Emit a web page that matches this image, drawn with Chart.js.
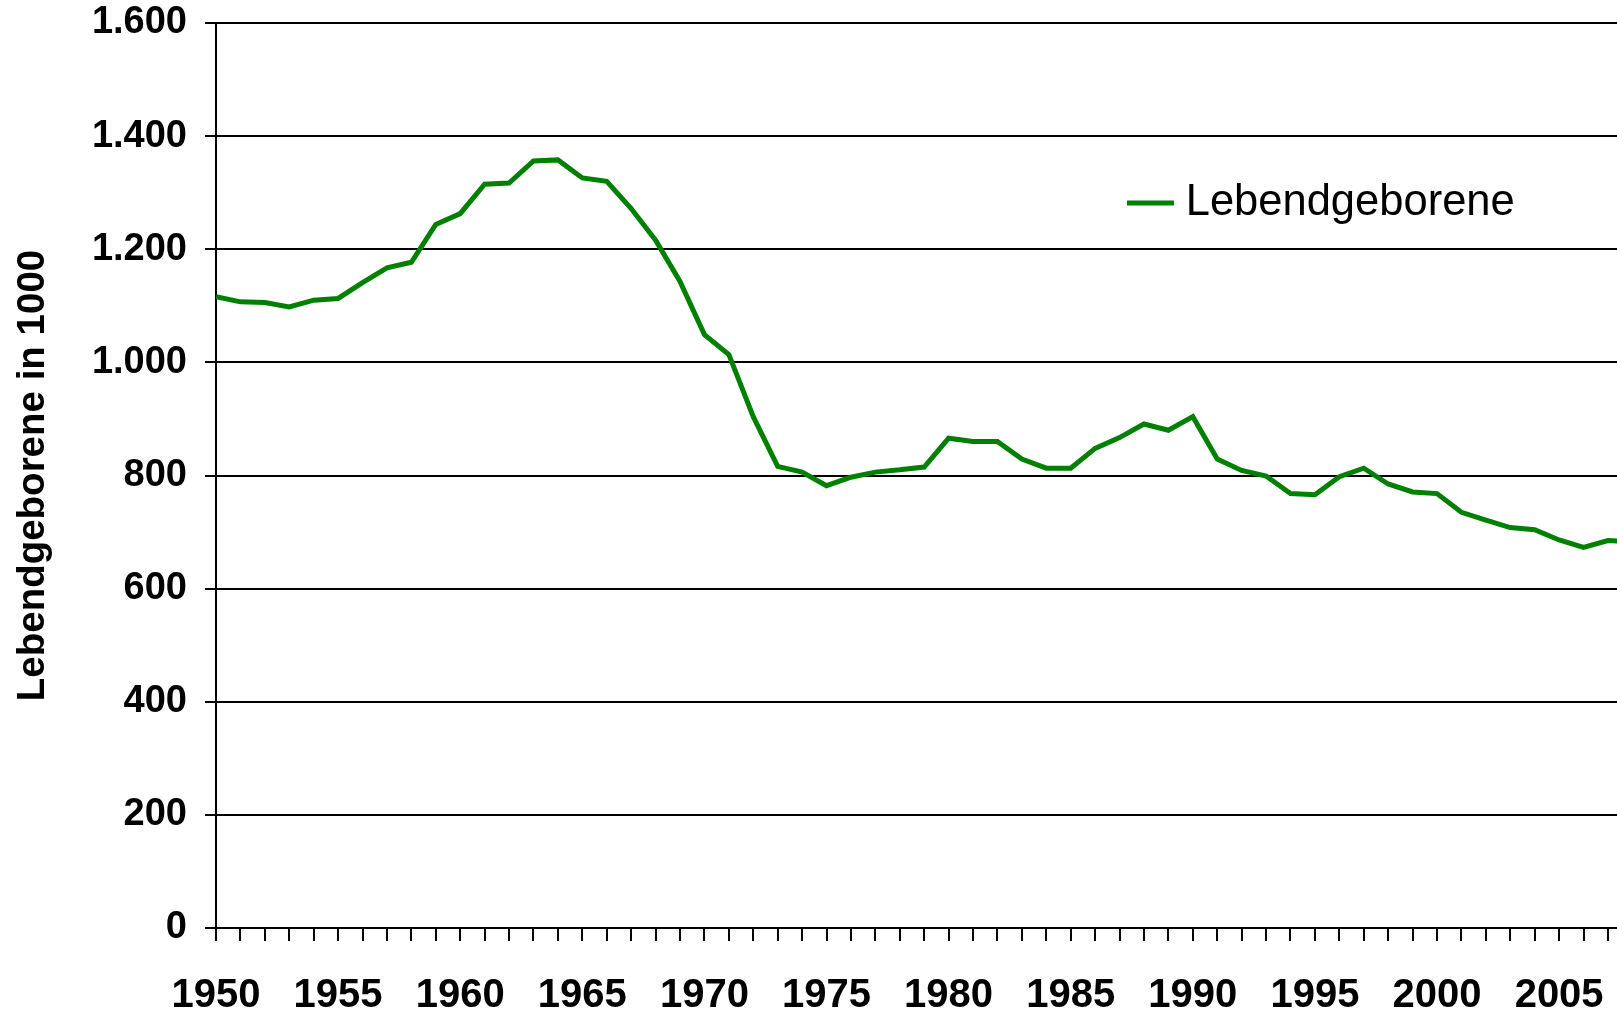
<!DOCTYPE html>
<html>
<head>
<meta charset="utf-8">
<script src="https://cdn.jsdelivr.net/npm/chart.js@4.4.0/dist/chart.umd.min.js"></script>
<style>
    html, body { margin: 0; padding: 0; background: #fff; }
    #wrap { width: 1617px; height: 1012px; }
</style>
</head>
<body>
<div id="wrap"><canvas id="birthsChart"></canvas></div>
<script>
// Lebendgeborene in Deutschland, in 1000
const years = [
    1950, 1951, 1952, 1953, 1954, 1955, 1956, 1957, 1958, 1959,
    1960, 1961, 1962, 1963, 1964, 1965, 1966, 1967, 1968, 1969,
    1970, 1971, 1972, 1973, 1974, 1975, 1976, 1977, 1978, 1979,
    1980, 1981, 1982, 1983, 1984, 1985, 1986, 1987, 1988, 1989,
    1990, 1991, 1992, 1993, 1994, 1995, 1996, 1997, 1998, 1999,
    2000, 2001, 2002, 2003, 2004, 2005, 2006, 2007, 2008
];
const births = [
    1116, 1107, 1106, 1098, 1110, 1113, 1141, 1167, 1177, 1244,
    1263, 1315, 1317, 1356, 1358, 1326, 1320, 1272, 1216, 1143,
    1049, 1014, 904, 816, 806, 782, 797, 806, 810, 815,
    866, 860, 860, 829, 813, 813, 848, 867, 891, 880,
    904, 829, 809, 799, 768, 766, 798, 813, 785, 771,
    768, 735, 721, 708, 704, 686, 673, 685, 683
];
const labelYears = [1950, 1955, 1960, 1965, 1970, 1975, 1980, 1985, 1990, 1995, 2000, 2005];
const yMax = 1600;
const yStep = 200;
const xMin = 1950;
const xMax = 2007.37;   // Bild ist rechts abgeschnitten

const seriesName = 'Lebendgeborene';
const yTitle = 'Lebendgeborene in 1000';

const fontFamily = '"Liberation Sans", Arial, Helvetica, sans-serif';
Chart.defaults.font.family = fontFamily;
Chart.defaults.color = '#000';

// deutsche Tausenderpunkte
function formatDe(v) {
    return String(v).replace(/\B(?=(\d{3})+(?!\d))/g, '.');
}

// keine automatischen Randabstaende der Achsen
function noScalePadding(s) {
    s.paddingTop = 0;
    s.paddingBottom = 0;
    s.paddingLeft = 0;
    s.paddingRight = 0;
}

// Legende in den Diagrammbereich schieben
const legendSpot = {
    id: 'legendSpot',
    afterLayout(chart) {
        const lg = chart.legend;
        const area = chart.chartArea;
        if (!lg || !area) return;
        const w = lg.width, h = lg.height;
        lg.left = area.left + (area.right - area.left) * 0.6488;
        lg.top = area.top + (area.bottom - area.top) * 0.1615;
        lg.right = lg.left + w;
        lg.bottom = lg.top + h;
    }
};

const ctx = document.getElementById('birthsChart');
new Chart(ctx.getContext('2d'), {
    type: 'line',
    data: {
        datasets: [{
            label: seriesName,
            data: years.map((y, i) => ({ x: y, y: births[i] })),
            borderColor: '#008000',
            backgroundColor: '#008000',
            borderWidth: 5,
            pointRadius: 0,
            tension: 0,
            fill: false
        }]
    },
    options: {
        responsive: true,
        maintainAspectRatio: false,
        animation: false,
        layout: {
            padding: { top: 23, right: 0, bottom: 0, left: 0 }
        },
        plugins: {
            legend: {
                display: true,
                position: 'chartArea',
                align: 'start',
                labels: {
                    usePointStyle: true,
                    pointStyle: 'line',
                    boxWidth: 27,
                    boxHeight: 33.2,
                    padding: 12,
                    color: '#000',
                    font: { size: 43.5, weight: 'normal' }
                }
            },
            tooltip: { enabled: false }
        },
        scales: {
            x: {
                type: 'linear',
                min: xMin,
                max: xMax,
                afterBuildTicks: s => {
                    s.ticks = years.filter(y => y <= s.max).map(v => ({ value: v }));
                },
                afterFit: s => {
                    s.height = 84;
                    noScalePadding(s);
                },
                ticks: {
                    stepSize: 1,
                    autoSkip: false,
                    minRotation: 0,
                    maxRotation: 0,
                    padding: 31,
                    color: '#000',
                    font: { size: 40, weight: 'bold' },
                    callback: v => labelYears.includes(v) ? String(v) : ''
                },
                grid: {
                    drawOnChartArea: false,
                    drawTicks: true,
                    tickLength: 13,
                    color: '#000',
                    lineWidth: 2
                },
                border: { display: true, color: '#000', width: 2 }
            },
            y: {
                min: 0,
                max: yMax,
                afterFit: s => {
                    s.width = 216;
                    noScalePadding(s);
                },
                ticks: {
                    stepSize: yStep,
                    padding: 18,
                    color: '#000',
                    font: { size: 38, weight: 'bold' },
                    callback: v => formatDe(v)
                },
                grid: {
                    color: '#000',
                    lineWidth: 2,
                    drawTicks: true,
                    tickLength: 11
                },
                border: { display: true, color: '#000', width: 2 },
                title: {
                    display: true,
                    text: yTitle,
                    color: '#000',
                    padding: { top: 10, bottom: 0 },
                    font: { size: 38.5, weight: 'bold' }
                }
            }
        }
    },
    plugins: [legendSpot]
});
</script>
</body>
</html>
